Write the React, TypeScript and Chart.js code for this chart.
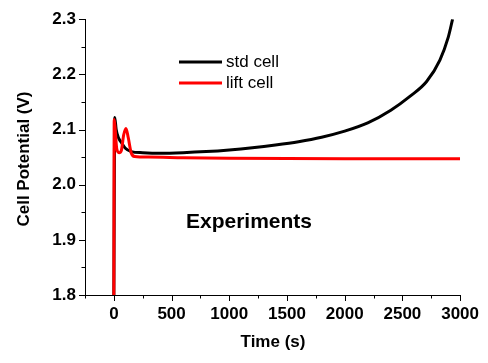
import { useEffect, useRef } from 'react';
import { Chart, registerables } from 'chart.js';
Chart.register(...registerables);

const stdTime = [0, 8, 20, 40, 70, 100, 150, 250, 400, 600, 800, 1000, 1200, 1400, 1600, 1800, 2000, 2200, 2400, 2565, 2710, 2825, 2897, 2935];
const stdVolt = [1.8, 2.122, 2.1, 2.085, 2.075, 2.066, 2.06, 2.058, 2.057, 2.058, 2.06, 2.063, 2.067, 2.072, 2.078, 2.086, 2.097, 2.112, 2.135, 2.16, 2.187, 2.226, 2.267, 2.3];
const liftTime = [0, 3, 12, 25, 45, 65, 85, 105, 125, 150, 180, 300, 600, 1000, 2000, 3000];
const liftVolt = [1.8, 2.118, 2.1, 2.065, 2.058, 2.062, 2.09, 2.102, 2.085, 2.058, 2.051, 2.05, 2.049, 2.048, 2.047, 2.047];
const xMajorTicks = [0, 500, 1000, 1500, 2000, 2500, 3000];
const xMinorTicks = [-250, 250, 750, 1250, 1750, 2250, 2750];
const yMajorTicks = [1.8, 1.9, 2.0, 2.1, 2.2, 2.3];
const yMinorTicks = [1.85, 1.95, 2.05, 2.15, 2.25];
const seriesNames = ['std cell', 'lift cell'];
const seriesColors = ['#000000', '#ff0000'];

const FONT = '"Liberation Sans", Arial, sans-serif';

const overlay = {
  id: 'overlay',
  afterDraw(chart: any) {
    const ctx = chart.ctx;
    const xs = chart.scales.x;
    const ys = chart.scales.y;
    const bottom = chart.chartArea.bottom;
    const left = chart.chartArea.left;
    ctx.save();
    ctx.strokeStyle = '#000';
    ctx.lineWidth = 1;
    const drawX = (v: number, len: number) => {
      const p = Math.round(xs.getPixelForValue(v)) + 0.5;
      ctx.beginPath();
      ctx.moveTo(p, bottom);
      ctx.lineTo(p, bottom + len);
      ctx.stroke();
    };
    const drawY = (v: number, len: number) => {
      const p = Math.round(ys.getPixelForValue(v)) + 0.5;
      ctx.beginPath();
      ctx.moveTo(left, p);
      ctx.lineTo(left - len, p);
      ctx.stroke();
    };
    xMajorTicks.forEach((v) => drawX(v, 6));
    xMinorTicks.forEach((v) => drawX(v, 3.5));
    yMajorTicks.forEach((v) => drawY(v, 6));
    yMinorTicks.forEach((v) => drawY(v, 3.5));

    // legend
    ctx.lineWidth = 3;
    seriesNames.forEach((name, i) => {
      const y = 62 + i * 21;
      ctx.strokeStyle = seriesColors[i];
      ctx.beginPath();
      ctx.moveTo(179, y);
      ctx.lineTo(222, y);
      ctx.stroke();
      ctx.fillStyle = '#000';
      ctx.font = `17px ${FONT}`;
      ctx.textAlign = 'left';
      ctx.textBaseline = 'alphabetic';
      ctx.fillText(name, 226, y + 5);
    });

    // annotation
    ctx.fillStyle = '#000';
    ctx.font = `bold 21px ${FONT}`;
    ctx.textAlign = 'center';
    ctx.textBaseline = 'alphabetic';
    ctx.fillText('Experiments', 249, 228);

    // axis titles
    ctx.font = `bold 17px ${FONT}`;
    ctx.textBaseline = 'middle';
    ctx.fillText('Time (s)', 273, 342);
    ctx.translate(24, 159);
    ctx.rotate(-Math.PI / 2);
    ctx.fillText('Cell Potential (V)', 0, 0);
    ctx.restore();
  },
};

export default function App() {
  const ref = useRef<HTMLCanvasElement>(null);
  useEffect(() => {
    if (!ref.current) return;
    const chart = new Chart(ref.current, {
      type: 'line',
      data: {
        datasets: [
          {
            label: seriesNames[0],
            data: stdTime.map((t, i) => ({ x: t, y: stdVolt[i] })),
            borderColor: seriesColors[0],
            borderWidth: 3,
            pointRadius: 0,
            cubicInterpolationMode: 'monotone',
            order: 2,
          },
          {
            label: seriesNames[1],
            data: liftTime.map((t, i) => ({ x: t, y: liftVolt[i] })),
            borderColor: seriesColors[1],
            borderWidth: 3,
            pointRadius: 0,
            cubicInterpolationMode: 'monotone',
            order: 1,
          },
        ],
      },
      options: {
        animation: false,
        responsive: false,
        layout: { padding: { top: 15, right: 27, left: 0, bottom: 0 } },
        plugins: { legend: { display: false }, tooltip: { enabled: false } },
        scales: {
          x: {
            type: 'linear',
            min: -250,
            max: 3000,
            afterBuildTicks: (s: any) => {
              s.ticks = xMajorTicks.map((v) => ({ value: v }));
            },
            afterFit: (s: any) => {
              s.height = 68;
            },
            grid: { display: false, drawTicks: false },
            border: { display: true, color: '#000', width: 1 },
            ticks: {
              color: '#000',
              font: { family: FONT, size: 17, weight: 'bold' },
              padding: 9,
              maxRotation: 0,
              autoSkip: false,
              callback: (v: any) => String(v),
            },
          },
          y: {
            type: 'linear',
            min: 1.8,
            max: 2.3,
            afterBuildTicks: (s: any) => {
              s.ticks = yMajorTicks.map((v) => ({ value: v }));
            },
            afterFit: (s: any) => {
              s.width = 85;
            },
            grid: { display: false, drawTicks: false },
            border: { display: true, color: '#000', width: 1 },
            ticks: {
              color: '#000',
              font: { family: FONT, size: 17, weight: 'bold' },
              padding: 9,
              autoSkip: false,
              callback: (v: any) => Number(v).toFixed(1),
            },
          },
        },
      },
      plugins: [overlay],
    } as any);
    return () => chart.destroy();
  }, []);
  return (
    <div style={{ position: 'fixed', left: 0, top: 0, width: 488, height: 363, background: '#fff' }}>
      <canvas ref={ref} width={488} height={363} style={{ width: 488, height: 363 }} />
    </div>
  );
}
